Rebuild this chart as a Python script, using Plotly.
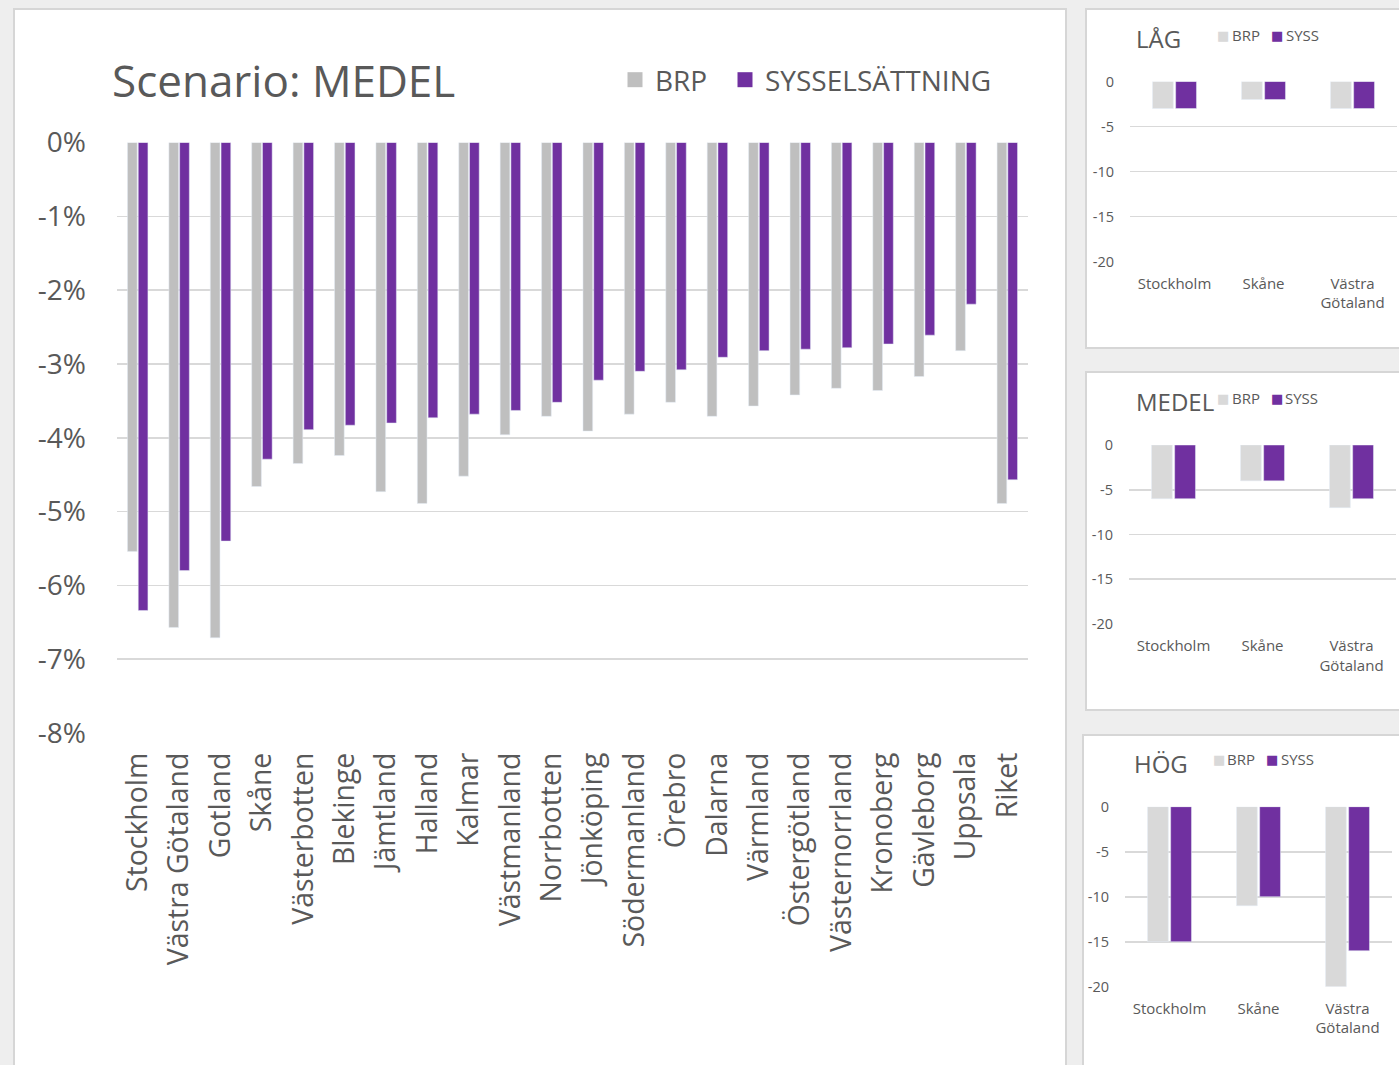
import plotly.graph_objects as go

W, H = 1399, 1065

# ---------------- data ----------------
regions = ["Stockholm", "Västra Götaland", "Gotland", "Skåne", "Västerbotten", "Blekinge",
           "Jämtland", "Halland", "Kalmar", "Västmanland", "Norrbotten", "Jönköping",
           "Södermanland", "Örebro", "Dalarna", "Värmland", "Östergötland", "Västernorrland",
           "Kronoberg", "Gävleborg", "Uppsala", "Riket"]
brp_medel = [-5.54, -6.57, -6.71, -4.66, -4.35, -4.24, -4.73, -4.89, -4.52, -3.96, -3.71,
             -3.91, -3.68, -3.52, -3.71, -3.57, -3.42, -3.33, -3.36, -3.17, -2.82, -4.89]
syss_medel = [-6.34, -5.80, -5.40, -4.29, -3.89, -3.83, -3.80, -3.73, -3.68, -3.63, -3.52,
              -3.22, -3.10, -3.08, -2.91, -2.82, -2.80, -2.78, -2.73, -2.61, -2.19, -4.57]
y_ticks = [0, -1, -2, -3, -4, -5, -6, -7, -8]
y_ticktext = ["0%", "-1%", "-2%", "-3%", "-4%", "-5%", "-6%", "-7%", "-8%"]

small_regions = ["Stockholm", "Skåne", "Västra<br>Götaland"]
brp_lag = [-3, -2, -3]
syss_lag = [-3, -2, -3]
brp_med = [-6, -4, -7]
syss_med = [-6, -4, -6]
brp_hog = [-15, -11, -20]
syss_hog = [-15, -10, -16]
small_ticks = [0, -5, -10, -15, -20]
small_ticktext = ["0", "-5", "-10", "-15", "-20"]
series_main = ["BRP", "SYSSELSÄTTNING"]
series_small = ["BRP", "SYSS"]
panel_titles = ["LÅG", "MEDEL", "HÖG"]

GRAY = "#BFBFBF"
LGRAY = "#D9D9D9"
PURPLE = "#7030A0"
TXT = "#595959"
FONT = "Open Sans"


def px(x):
    return x / W


def py(y):
    return 1 - y / H


fig = go.Figure()

# main chart bars
fig.add_trace(go.Bar(x=regions, y=brp_medel, name=series_main[0], marker_color=GRAY,
                     xaxis="x", yaxis="y", showlegend=False))
fig.add_trace(go.Bar(x=regions, y=syss_medel, name=series_main[1], marker_color=PURPLE,
                     xaxis="x", yaxis="y", showlegend=False))

panels = [
    ("x2", "y2", brp_lag, syss_lag),
    ("x3", "y3", brp_med, syss_med),
    ("x4", "y4", brp_hog, syss_hog),
]
for xa, ya, b, s in panels:
    fig.add_trace(go.Bar(x=small_regions, y=b, name=series_small[0], marker_color=LGRAY,
                         xaxis=xa, yaxis=ya, showlegend=False))
    fig.add_trace(go.Bar(x=small_regions, y=s, name=series_small[1], marker_color=PURPLE,
                         xaxis=xa, yaxis=ya, showlegend=False))

# main legend entries (one legend per entry for exact placement)
main_legend = [
    (series_main[0], GRAY, "legend", 615, 80),
    (series_main[1], PURPLE, "legend2", 725, 80),
]
for name, col, lg, lx, ly in main_legend:
    fig.add_trace(go.Scatter(x=[None], y=[None], mode="markers", name=name,
                             marker=dict(symbol="square", size=15, color=col),
                             xaxis="x", yaxis="y", legend=lg, showlegend=True,
                             hoverinfo="skip"))

grid = dict(showgrid=True, gridcolor="#D9D9D9", gridwidth=1.6, zeroline=False,
            showline=False, ticks="", automargin=False)

layout = dict(
    width=W, height=H,
    margin=dict(l=0, r=0, t=0, b=0, pad=0, autoexpand=False),
    paper_bgcolor="#EEEEEE",
    plot_bgcolor="rgba(0,0,0,0)",
    font=dict(family=FONT, color=TXT),
    barmode="group",
    bargap=0.48,
    bargroupgap=0.1,
    hovermode=False,
    xaxis=dict(domain=[px(117), px(1028)], anchor="y", tickangle=-90,
               tickfont=dict(size=28.4, color=TXT), ticklabelstandoff=13,
               showgrid=False, automargin=False),
    yaxis=dict(domain=[py(733), py(142.5)], anchor="x", range=[-8, 0],
               tickvals=y_ticks, ticktext=y_ticktext, tickfont=dict(size=28, color=TXT),
               ticklabelstandoff=30, **grid),
)

small_geo = [
    ("xaxis2", "yaxis2", "x2", "y2", (1130, 1397), (261.7, 81.5)),
    ("xaxis3", "yaxis3", "x3", "y3", (1129, 1396), (624, 445)),
    ("xaxis4", "yaxis4", "x4", "y4", (1125, 1392), (986.7, 806.7)),
]
for xk, yk, xn, yn, (xl, xr), (yb, yt) in small_geo:
    layout[xk] = dict(domain=[px(xl), px(xr)], anchor=yn, showgrid=False,
                      tickfont=dict(size=15, color=TXT), ticklabelstandoff=11,
                      automargin=False)
    layout[yk] = dict(domain=[py(yb), py(yt)], anchor=xn, range=[-20, 0],
                      tickvals=small_ticks, ticktext=small_ticktext,
                      tickfont=dict(size=14.5, color=TXT), ticklabelstandoff=15, **grid)

for name, col, lg, lx, ly in main_legend:
    layout[lg] = dict(orientation="h", bgcolor="rgba(0,0,0,0)", xanchor="left",
                      yanchor="middle", x=px(lx), y=py(ly), borderwidth=0,
                      font=dict(size=28, color=TXT), itemwidth=30)

shapes = []
for (x0, y0, x1, y1) in [(14, 9, 1066, 1080), (1086, 9, 1420, 348),
                         (1086, 372, 1420, 710), (1083, 735, 1420, 1080)]:
    shapes.append(dict(type="rect", xref="paper", yref="paper", layer="below",
                       x0=px(x0), x1=px(x1), y0=py(y1), y1=py(y0),
                       fillcolor="white", line=dict(color="#D6D6D6", width=2)))
layout["shapes"] = shapes

annotations = [
    dict(text="Scenario: MEDEL", x=px(110), y=py(80), font=dict(size=44, color=TXT)),
]
title_pos = [(1134, 38), (1134, 401), (1132, 763)]
for t, (tx, ty) in zip(panel_titles, title_pos):
    annotations.append(dict(text=t, x=px(tx), y=py(ty), font=dict(size=24, color=TXT)))

# small legends: (square centre x of BRP, text x of BRP, square centre SYSS, text SYSS, y)
small_leg = [(1223.3, 1229.5, 1277.3, 1283.5, 35),
             (1223, 1229.5, 1276.5, 1283, 398),
             (1218.5, 1225, 1271.5, 1278.5, 759)]
for sx1, tx1, sx2, tx2, ly in small_leg:
    for name, col, sx, tx in [(series_small[0], LGRAY, sx1, tx1),
                              (series_small[1], PURPLE, sx2, tx2)]:
        annotations.append(dict(text="■", x=px(sx), y=py(ly), xanchor="center",
                                font=dict(size=13, color=col, family="DejaVu Sans")))
        annotations.append(dict(text=name, x=px(tx), y=py(ly), xanchor="left",
                                font=dict(size=15, color=TXT)))

for a in annotations:
    a.setdefault("xanchor", "left")
    a.update(xref="paper", yref="paper", yanchor="middle", showarrow=False)
layout["annotations"] = annotations

fig.update_layout(**layout)
fig.write_html("out.html",
               config={"displayModeBar": False, "staticPlot": True},
               post_script="document.body.style.margin='0';"
                           "document.body.style.background='#EEEEEE';"
                           "document.body.style.overflow='hidden';")
